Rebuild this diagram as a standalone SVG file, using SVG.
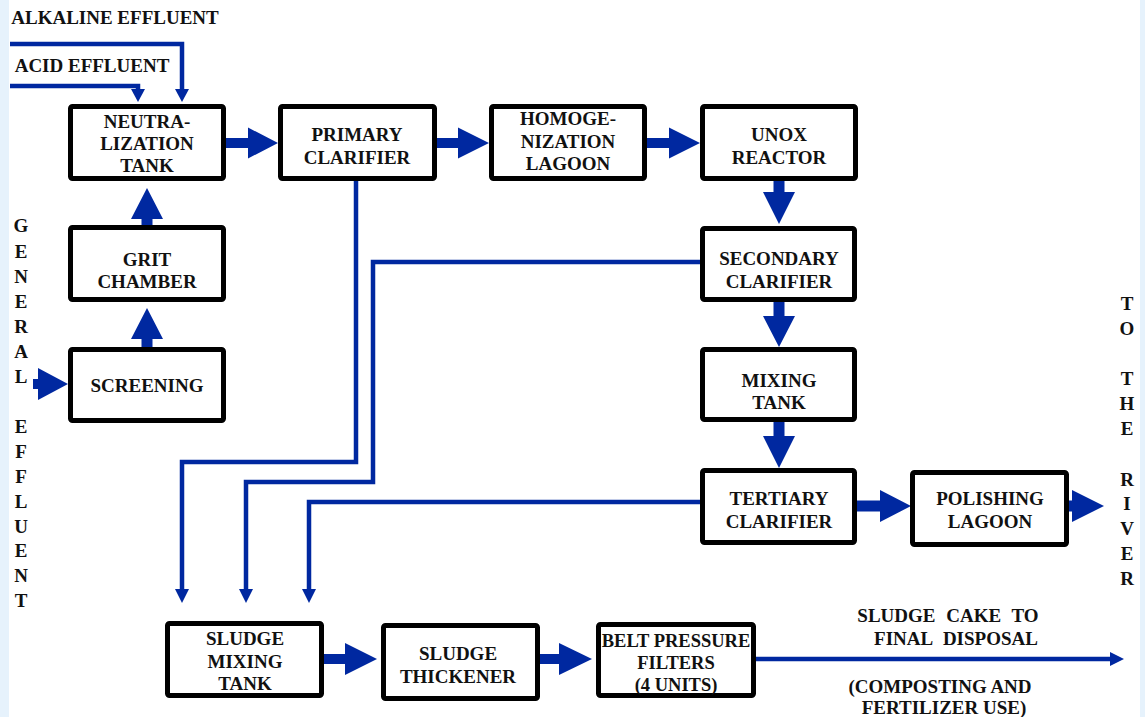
<svg xmlns="http://www.w3.org/2000/svg" width="1145" height="717" viewBox="0 0 1145 717">
<style>
.box{fill:#fff;stroke:#000;stroke-width:5;}
.t{font-family:"Liberation Serif","Times New Roman",serif;font-weight:bold;font-size:19px;fill:#111;text-anchor:middle;}
.tl{font-family:"Liberation Serif","Times New Roman",serif;font-weight:bold;font-size:19px;fill:#111;}
.ln{fill:none;stroke:#0028a0;stroke-width:4.5;}
.ah{fill:#0028a0;}
</style>
<rect x="0" y="0" width="1145" height="717" fill="#fff"/>
<rect x="0" y="0" width="9" height="717" fill="#e6f2fc"/>
<rect x="1140" y="0" width="5" height="717" fill="#e6f2fc"/>

<g id="labels">
<text class="t" x="115" y="24">ALKALINE EFFLUENT</text>
<text class="t" x="92" y="72">ACID EFFLUENT</text>
<g class="t">
<text x="21" y="232">G</text><text x="21" y="258">E</text><text x="21" y="283">N</text><text x="21" y="308">E</text><text x="21" y="333">R</text><text x="21" y="358">A</text><text x="21" y="383">L</text>
<text x="21" y="433">E</text><text x="21" y="458">F</text><text x="21" y="483">F</text><text x="21" y="508">L</text><text x="21" y="533">U</text><text x="21" y="557">E</text><text x="21" y="582">N</text><text x="21" y="607">T</text>
</g>
<g class="t">
<text x="1127" y="310">T</text><text x="1127" y="335">O</text>
<text x="1127" y="385">T</text><text x="1127" y="410">H</text><text x="1127" y="435">E</text>
<text x="1127" y="486">R</text><text x="1127" y="510">I</text><text x="1127" y="535">V</text><text x="1127" y="560">E</text><text x="1127" y="585">R</text>
</g>
<text class="t" x="948" y="622" style="word-spacing:6px">SLUDGE CAKE TO</text>
<text class="t" x="956" y="645" style="word-spacing:6px">FINAL DISPOSAL</text>
<text class="t" x="940" y="693">(COMPOSTING AND</text>
<text class="t" x="944" y="714">FERTILIZER USE)</text>
</g>

<g id="connectors">
<polygon class="ah" points="226,138 248,138 248,127.5 278,143 248,158.5 248,148 226,148"/>
<polygon class="ah" points="437,138 458,138 458,127.5 489,143 458,158.5 458,148 437,148"/>
<polygon class="ah" points="647,138 669,138 669,127.5 700,143 669,158.5 669,148 647,148"/>
<polygon class="ah" points="773.5,181 784.5,181 784.5,192 795,192 779,224 763,192 773.5,192"/>
<polygon class="ah" points="773.5,302 784.5,302 784.5,316 795,316 779,347 763,316 773.5,316"/>
<polygon class="ah" points="773.5,422 784.5,422 784.5,436 795,436 779,468 763,436 773.5,436"/>
<polygon class="ah" points="857,500.5 880,500.5 880,490 911,506 880,522 880,511.5 857,511.5"/>
<polygon class="ah" points="1069,500.5 1072,500.5 1072,490 1104,506 1072,522 1072,511.5 1069,511.5"/>
<polygon class="ah" points="141.5,225 152.5,225 152.5,219 163,219 147,188 131,219 141.5,219"/>
<polygon class="ah" points="141.5,347 152.5,347 152.5,339 163,339 147,308 131,339 141.5,339"/>
<polygon class="ah" points="33,379 38,379 38,368 68,384 38,400 38,389 33,389"/>
<polygon class="ah" points="324,654 345,654 345,643 377,659 345,675 345,664 324,664"/>
<polygon class="ah" points="540,654 559,654 559,643 592,659 559,675 559,664 540,664"/>

<polyline class="ln" points="10,44 182,44 182,90"/>
<polygon class="ah" points="175,89 189,89 182,102"/>
<polyline class="ln" points="10,86 138,86 138,90"/>
<polygon class="ah" points="131,89 145,89 138,102"/>

<polyline class="ln" points="356,181 356,462 182,462 182,590"/>
<polygon class="ah" points="175,589 189,589 182,603"/>
<polyline class="ln" points="700,262 373,262 373,482 246,482 246,590"/>
<polygon class="ah" points="239,589 253,589 246,603"/>
<polyline class="ln" points="700,502 309,502 309,590"/>
<polygon class="ah" points="302,589 316,589 309,603"/>
<polyline class="ln" points="756,659 1111,659"/>
<polygon class="ah" points="1110,652 1110,666 1124,659"/>
</g>

<g id="neutralization"><rect class="box" x="70.5" y="106.5" width="153" height="72" rx="2"/>
<text class="t" x="147" y="128">NEUTRA-</text><text class="t" x="147" y="150">LIZATION</text><text class="t" x="147" y="172">TANK</text></g>
<g id="primary"><rect class="box" x="280.5" y="106.5" width="154" height="72" rx="2"/>
<text class="t" x="357" y="141">PRIMARY</text><text class="t" x="357" y="164">CLARIFIER</text></g>
<g id="homogenization"><rect class="box" x="491.5" y="106.5" width="153" height="72" rx="2"/>
<text class="t" x="568" y="125">HOMOGE-</text><text class="t" x="568" y="148">NIZATION</text><text class="t" x="568" y="170">LAGOON</text></g>
<g id="unox"><rect class="box" x="702.5" y="106.5" width="153" height="72" rx="2"/>
<text class="t" x="779" y="141">UNOX</text><text class="t" x="779" y="164">REACTOR</text></g>
<g id="secondary"><rect class="box" x="702.5" y="228.5" width="152" height="71" rx="2"/>
<text class="t" x="779" y="265">SECONDARY</text><text class="t" x="779" y="288">CLARIFIER</text></g>
<g id="mixing"><rect class="box" x="702.5" y="349.5" width="152" height="70" rx="2"/>
<text class="t" x="779" y="387">MIXING</text><text class="t" x="779" y="409">TANK</text></g>
<g id="tertiary"><rect class="box" x="702.5" y="470.5" width="152" height="72" rx="2"/>
<text class="t" x="779" y="505">TERTIARY</text><text class="t" x="779" y="528">CLARIFIER</text></g>
<g id="polishing"><rect class="box" x="912.5" y="472.5" width="154" height="72" rx="2"/>
<text class="t" x="990" y="505">POLISHING</text><text class="t" x="990" y="528">LAGOON</text></g>
<g id="grit"><rect class="box" x="70.5" y="227.5" width="153" height="72" rx="2"/>
<text class="t" x="147" y="266">GRIT</text><text class="t" x="147" y="288">CHAMBER</text></g>
<g id="screening"><rect class="box" x="70.5" y="349.5" width="153" height="71" rx="2"/>
<text class="t" x="147" y="392">SCREENING</text></g>
<g id="sludge-mixing"><rect class="box" x="167.5" y="623.5" width="154" height="72" rx="2"/>
<text class="t" x="245" y="645">SLUDGE</text><text class="t" x="245" y="668">MIXING</text><text class="t" x="245" y="690">TANK</text></g>
<g id="thickener"><rect class="box" x="383.5" y="625.5" width="154" height="73" rx="2"/>
<text class="t" x="458" y="660">SLUDGE</text><text class="t" x="458" y="683">THICKENER</text></g>
<g id="belt"><rect class="box" x="598.5" y="624.5" width="155" height="71" rx="2"/>
<text class="t" x="676" y="647" style="font-size:18.5px">BELT PRESSURE</text><text class="t" x="676" y="669" style="font-size:18.5px">FILTERS</text><text class="t" x="676" y="691" style="font-size:18.5px">(4 UNITS)</text></g>
</svg>
